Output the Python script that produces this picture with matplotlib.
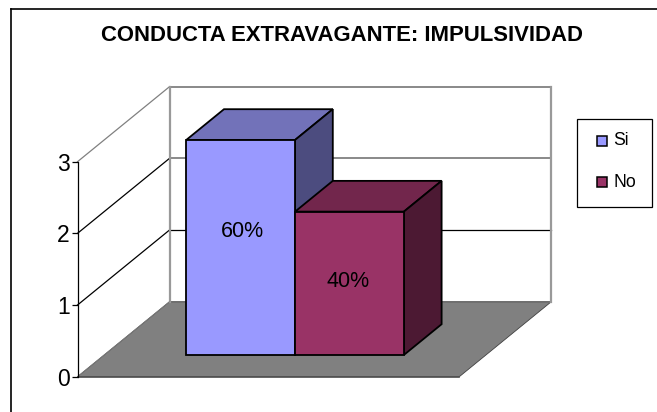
import matplotlib
matplotlib.use("Agg")
import matplotlib.pyplot as plt
from matplotlib.lines import Line2D
from matplotlib.patches import Polygon, Rectangle

plt.rcParams['font.family'] = ['Liberation Sans', 'DejaVu Sans']

title = "CONDUCTA EXTRAVAGANTE: IMPULSIVIDAD"
series = ["Si", "No"]
values = [3, 2]
labels = ["60%", "40%"]
front = ["#9999FF", "#993366"]
top = ["#7272B9", "#72264C"]
side = ["#4C4C7F", "#4C1933"]
yticks = [0, 1, 2, 3]

W, H = 657, 412
fig = plt.figure(figsize=(W / 100, H / 100), dpi=100, facecolor="white")
X0, X1, Y0, Y3 = 77.5, 459.3, 376.7, 161.7
ax = fig.add_axes([X0 / W, 1 - Y0 / H, (X1 - X0) / W, (Y0 - Y3) / H])
ax.set_xlim(0, 1)
ax.set_ylim(0, 3)
ax.patch.set_visible(False)
for s in ["top", "right", "bottom"]:
    ax.spines[s].set_visible(False)
ax.spines["left"].set_linewidth(0.9)
ax.set_xticks([])
ax.set_yticks(yticks)
ax.tick_params(axis="y", length=4, width=0.9, labelsize=16.5, pad=1.5)

DX = 92 / (X1 - X0)
DY = 75 / ((Y0 - Y3) / 3)


def P(x, y, d):
    return (x + d * DX, y + d * DY)


def poly(points, **kw):
    kw.setdefault("clip_on", False)
    ax.add_patch(Polygon(points, closed=True, **kw))


ymax = yticks[-1]
# floor
poly([P(0, 0, 0), P(1, 0, 0), P(1, 0, 1), P(0, 0, 1)], fc="#808080", ec="#404040", lw=0.6, zorder=1)
ax.plot([0, 1], [0, 0], color="#505050", lw=1.2, clip_on=False, zorder=1.5)
# walls
for t in yticks[1:]:
    gray = t == ymax or t == 2
    col = "#808080" if gray else "black"
    ax.plot(*zip(P(0, t, 0), P(0, t, 1)), color="#808080" if t == ymax else "black", lw=0.9, clip_on=False, zorder=1)
    ax.plot(*zip(P(0, t, 1), P(1, t, 1)), color=col, lw=1.3 if gray else 0.9, clip_on=False, zorder=1)
ax.plot(*zip(P(0, 0, 1), P(1, 0, 1)), color="#707070", lw=1.4, clip_on=False, zorder=1.2)
for x in [0, 1]:
    ax.plot(*zip(P(x, 0, 1), P(x, ymax, 1)), color="#999999", lw=1.6, clip_on=False, zorder=1.2)
ax.plot(*zip(P(0, 0, 0), P(0, 0, 1)), color="#808080", lw=0.6, clip_on=False, zorder=1.2)

# bars
bw = 0.285
x_start = 0.215
d0, d1 = 0.29, 0.70
lw = 1.3
label_frac = [0.574, 0.511]
label_dx = [0.004, -0.004]
for i in reversed(range(len(values))):
    xa = x_start + i * bw
    xb = xa + bw
    v = values[i]
    z = 3 + i
    poly([P(xa, 0, d0), P(xb, 0, d0), P(xb, v, d0), P(xa, v, d0)], fc=front[i], ec="black", lw=lw, joinstyle="miter", zorder=z + 0.3)
    poly([P(xa, v, d0), P(xb, v, d0), P(xb, v, d1), P(xa, v, d1)], fc=top[i], ec="black", lw=lw, joinstyle="miter", zorder=z + 0.1)
    poly([P(xb, 0, d0), P(xb, 0, d1), P(xb, v, d1), P(xb, v, d0)], fc=side[i], ec="black", lw=lw, joinstyle="miter", zorder=z + 0.2)
    tx, ty = P((xa + xb) / 2, v * label_frac[i], d0)
    ax.text(tx + label_dx[i], ty, labels[i], ha="center", va="center", fontsize=15.5, color="black", zorder=8)

# chart frame (only its top and left edges fall inside the picture)
for xs, ys in [((11 / W, 11 / W), (1 - 8.5 / H, 0)), ((11 / W, 1), (1 - 8.5 / H, 1 - 8.5 / H))]:
    fig.add_artist(Line2D(xs, ys, transform=fig.transFigure, color="black", lw=1.2))
fig.text(341.5 / W, 1 - 35.5 / H, title, ha="center", va="center", fontsize=15.9, fontweight="bold", color="black")

# legend
fig.add_artist(Rectangle((576.5 / W, 1 - 206.5 / H), 75 / W, 88 / H, transform=fig.transFigure, fill=False, ec="black", lw=0.9))
for i, name in enumerate(series):
    yc = 140.8 + 41.6 * i
    fig.add_artist(Rectangle((597 / W, 1 - (yc + 5) / H), 10 / W, 10 / H, transform=fig.transFigure, fc=front[i], ec="black", lw=1.1))
    fig.text(613.5 / W, 1 - yc / H, name, ha="left", va="center", fontsize=12.7, color="black")

fig.savefig("out.png", dpi=100)
